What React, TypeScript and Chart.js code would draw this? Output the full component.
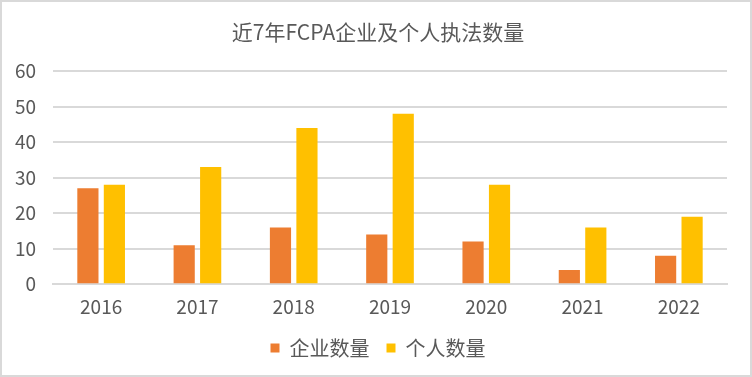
import React, { useEffect, useRef } from "react";
import { Chart, registerables } from "chart.js";

Chart.register(...registerables);

const categories = ["2016", "2017", "2018", "2019", "2020", "2021", "2022"];
const corporateCounts = [27, 11, 16, 14, 12, 4, 8];
const individualCounts = [28, 33, 44, 48, 28, 16, 19];
const seriesNames = ["企业数量", "个人数量"];
const titleText = "近7年FCPA企业及个人执法数量";

const FONT = "'Noto Sans CJK SC', 'Noto Sans', sans-serif";

export default function App() {
  const ref = useRef<HTMLCanvasElement | null>(null);

  useEffect(() => {
    document.body.style.margin = "0";
    const canvas = ref.current;
    if (!canvas) return;
    const chart = new Chart(canvas, {
      type: "bar",
      data: {
        labels: categories,
        datasets: [
          {
            label: seriesNames[0],
            data: corporateCounts,
            backgroundColor: "#ED7D31",
            categoryPercentage: 0.55,
            barPercentage: 0.8,
          },
          {
            label: seriesNames[1],
            data: individualCounts,
            backgroundColor: "#FFC000",
            categoryPercentage: 0.55,
            barPercentage: 0.8,
          },
        ],
      },
      options: {
        animation: false,
        responsive: false,
        maintainAspectRatio: false,
        layout: { padding: { left: 4, right: 0, top: 0, bottom: 7 } },
        plugins: {
          title: {
            display: true,
            text: titleText,
            color: "#595959",
            font: { family: FONT, size: 21, weight: "normal" },
            padding: { top: 17, bottom: 27 },
          },
          legend: {
            position: "bottom",
            labels: {
              color: "#595959",
              font: { family: FONT, size: 20 },
              boxWidth: 9,
              boxHeight: 9,
              padding: 17,
            },
          },
          tooltip: { enabled: false },
        },
        scales: {
          x: {
            grid: { display: false },
            border: { display: true, color: "#D9D9D9", width: 2 },
            ticks: { color: "#595959", font: { family: FONT, size: 19 }, padding: 3 },
          },
          y: {
            min: 0,
            max: 60,
            afterFit: (scale: any) => {
              scale.width = 47;
            },
            ticks: { stepSize: 10, color: "#595959", font: { family: FONT, size: 19 }, padding: 17 },
            grid: { color: "#D9D9D9", lineWidth: 2, drawTicks: false },
            border: { display: false },
          },
          yRight: {
            position: "right",
            min: 0,
            max: 60,
            afterFit: (scale: any) => {
              scale.width = 23;
            },
            ticks: { display: false },
            grid: { display: false, drawTicks: false },
            border: { display: false },
          },
        },
      },
    });
    return () => chart.destroy();
  }, []);

  return (
    <div
      style={{
        position: "absolute",
        left: 0,
        top: 0,
        width: 752,
        height: 377,
        boxSizing: "border-box",
        border: "2px solid #D9D9D9",
        background: "#fff",
      }}
    >
      <canvas ref={ref} width={748} height={373} style={{ display: "block" }} />
    </div>
  );
}
